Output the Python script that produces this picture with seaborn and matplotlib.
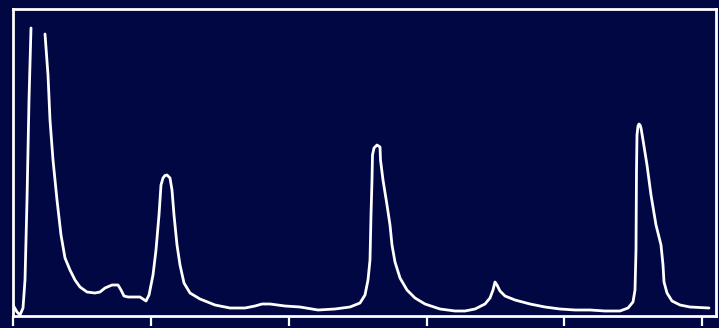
import matplotlib
matplotlib.use("Agg")
import matplotlib.pyplot as plt
import seaborn as sns

bg = "#000742"

# retention position (arbitrary units) and detector signal
x_a = [0, 4, 7, 10, 12, 14, 16, 18]
y_a = [11, 4, 1, 8, 36, 116, 216, 288]

x_b = [32, 35, 37, 40, 44, 48, 52, 57, 62, 67,
       74, 82, 87, 92, 99, 105, 108, 111, 115, 122,
       127, 130, 133, 136, 140, 143, 146, 148, 150, 152,
       154, 157, 159, 161, 164, 167, 171, 177, 187, 202,
       217, 232, 242, 249, 257, 272, 287, 305, 322, 337,
       347, 352, 355, 357, 358, 359, 359.5, 361, 364, 367,
       367.5, 370, 374, 377, 379, 382, 387, 394, 402, 412,
       427, 442, 452, 462, 472, 477, 480, 482, 484, 487,
       492, 502, 517, 532, 547, 562, 577, 592, 607, 615,
       620, 622, 623, 623.5, 624, 625, 626, 627, 628, 630,
       634, 638, 643, 648, 650, 651, 654, 659, 667, 677,
       696]
y_b = [282, 241, 196, 156, 116, 81, 58, 46, 36, 29,
       24, 23, 24, 28, 31, 31, 26, 20, 19, 19,
       19, 17, 15, 21, 41, 66, 101, 131, 138, 140.5,
       141, 138, 126, 101, 71, 51, 33, 23, 17, 11,
       8, 8, 10, 12, 12, 10, 9, 6, 7, 9,
       13, 21, 36, 56, 101, 136, 161, 168, 171, 169,
       156, 136, 111, 91, 71, 54, 38, 26, 18, 12,
       7, 5, 5, 7, 12, 18, 26, 34, 31, 25,
       20, 16, 12, 9, 7, 6, 6, 5, 5, 8,
       14, 26, 66, 146, 181, 190, 192, 191, 188, 176,
       151, 121, 91, 71, 51, 34, 23, 15, 11, 9,
       8]

tick_pos = [0, 138, 276, 414, 551, 689]

fig = plt.figure(figsize=(7.19, 3.28), dpi=100, facecolor=bg)
ax = fig.add_axes([13 / 719, 12 / 328, 703 / 719, 307 / 328], facecolor=bg)

line_kw = dict(color="white", lw=2, sort=False,
               solid_joinstyle="round", solid_capstyle="round")
sns.lineplot(x=x_a, y=y_a, ax=ax, **line_kw)
sns.lineplot(x=x_b, y=y_b, ax=ax, **line_kw)

ax.set_xlim(0, 703)
ax.set_ylim(0, 307)
for s in ax.spines.values():
    s.set_color("white")
    s.set_linewidth(2)
ax.set_xticks(tick_pos)
ax.set_xticklabels([])
ax.set_yticks([])
ax.tick_params(axis="x", colors="white", length=7, width=1.6)
ax.set_xlabel("")
ax.set_ylabel("")

fig.savefig("out.png", dpi=100, facecolor=bg)
